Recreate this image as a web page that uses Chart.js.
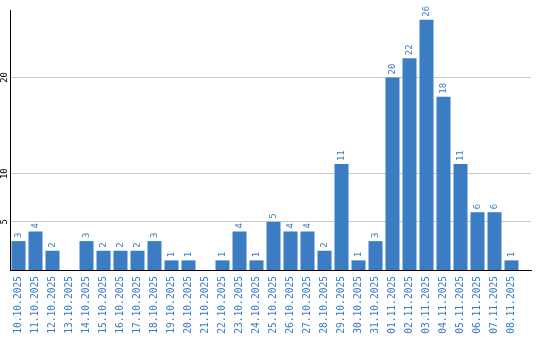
<!DOCTYPE html>
<html>
<head>
<meta charset="utf-8">
<script src="https://cdn.jsdelivr.net/npm/chart.js@4"></script>
<style>
  html, body { margin: 0; padding: 0; background: #fff; }
  #wrap { width: 540px; height: 340px; }
</style>
</head>
<body>
<div id="wrap"><canvas id="dayChart"></canvas></div>
<script>
/* ===== daily counts ===== */

const days = [
  '10.10.2025', '11.10.2025', '12.10.2025', '13.10.2025', '14.10.2025',
  '15.10.2025', '16.10.2025', '17.10.2025', '18.10.2025', '19.10.2025',
  '20.10.2025', '21.10.2025', '22.10.2025', '23.10.2025', '24.10.2025',
  '25.10.2025', '26.10.2025', '27.10.2025', '28.10.2025', '29.10.2025',
  '30.10.2025', '31.10.2025', '01.11.2025', '02.11.2025', '03.11.2025',
  '04.11.2025', '05.11.2025', '06.11.2025', '07.11.2025', '08.11.2025'
];
const counts = [3, 4, 2, 0, 3, 2, 2, 2, 3, 1, 1, 0, 1, 4, 1, 5, 4, 4, 2, 11, 1, 3, 20, 22, 26, 18, 11, 6, 6, 1];
const yTickValues = [5, 10, 20];
const yMax = 27;

const barBlue = '#3a7dc3';
const textBlue = '#3a7cc4';
const monoFont = 'DejaVu Sans Mono';

// value labels on top of the bars, turned like the axis labels
const barLabels = {
  id: 'barLabels',
  afterDatasetsDraw(chart) {
    const ctx = chart.ctx;
    const meta = chart.getDatasetMeta(0);
    ctx.save();
    ctx.font = '9px "' + monoFont + '"';
    ctx.fillStyle = textBlue;
    ctx.textAlign = 'left';
    ctx.textBaseline = 'middle';
    meta.data.forEach((bar, i) => {
      if (!counts[i]) return;
      ctx.save();
      ctx.translate(bar.x, bar.y - 3);
      ctx.rotate(-Math.PI / 2);
      ctx.fillText(String(counts[i]), 0, 0);
      ctx.restore();
    });
    ctx.restore();
  }
};

// grid lines and the bottom axis run a bit further right than the bars
const stretchGrid = {
  id: 'stretchGrid',
  afterLayout(chart) {
    chart.chartArea.right = 531;
    chart.scales.x.right = 531;
  }
};

new Chart(document.getElementById('dayChart'), {
  type: 'bar',
  data: {
    labels: days,
    datasets: [{
      data: counts,
      backgroundColor: barBlue,
      borderWidth: 0,
      barPercentage: 0.824,
      categoryPercentage: 1
    }]
  },
  options: {
    responsive: true,
    maintainAspectRatio: false,
    animation: false,
    layout: { padding: { top: 10, right: 20, left: 0, bottom: 0 } },
    plugins: { legend: { display: false }, tooltip: { enabled: false } },
    scales: {
      x: {
        grid: { display: false, drawTicks: false, tickLength: 0 },
        border: { display: true, color: '#000', width: 1 },
        ticks: {
          autoSkip: false,
          minRotation: 90,
          maxRotation: 90,
          padding: 6,
          color: textBlue,
          font: { family: monoFont, size: 9.6 }
        },
        afterFit: s => { s.height = 70; }
      },
      y: {
        min: 0,
        max: yMax,
        grid: { color: '#c8c8c8', drawTicks: false },
        border: { display: true, color: '#000', width: 1 },
        ticks: {
          minRotation: 90,
          maxRotation: 90,
          crossAlign: 'center',
          padding: 0,
          color: '#000',
          font: { family: monoFont, size: 9 }
        },
        afterBuildTicks: s => { s.ticks = yTickValues.map(v => ({ value: v })); },
        afterFit: s => { s.width = 10; }
      }
    }
  },
  plugins: [barLabels, stretchGrid]
});
</script>
</body>
</html>
